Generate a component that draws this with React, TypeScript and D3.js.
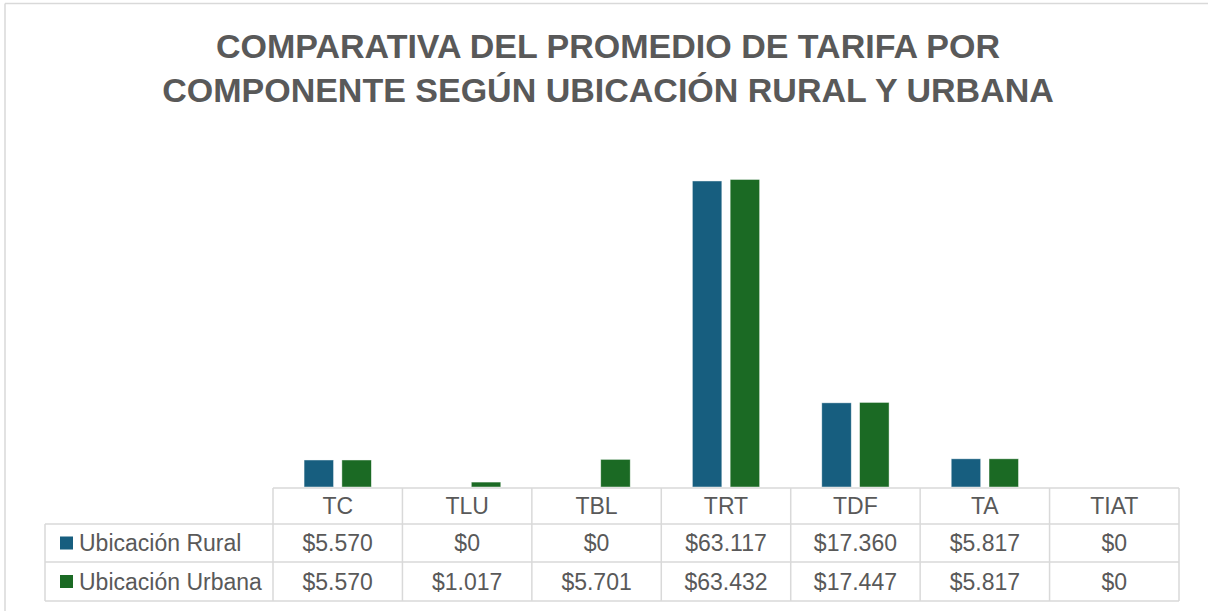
import React from "react";
import * as d3 from "d3";

const categories = ["TC", "TLU", "TBL", "TRT", "TDF", "TA", "TIAT"];
const seriesNames = ["Ubicación Rural", "Ubicación Urbana"];
const ruralValues = [5570, 0, 0, 63117, 17360, 5817, 0];
const urbanValues = [5570, 1017, 5701, 63432, 17447, 5817, 0];
const seriesColors = ["#175E7F", "#1B6A24"];
const titleLines = [
  "COMPARATIVA DEL PROMEDIO DE TARIFA POR",
  "COMPONENTE SEGÚN UBICACIÓN RURAL Y URBANA",
];
const yMax = 70000;

const W = 1208;
const H = 611;

const locale = d3.formatLocale({
  decimal: ",",
  thousands: ".",
  grouping: [3],
  currency: ["$", ""],
});
const fmt = locale.format("$,.0f");

export default function App() {
  const seriesValues = [ruralValues, urbanValues];
  const left = 273;
  const right = 1179;
  const baseY = 488;
  const x = d3.scaleBand<string>().domain(categories).range([left, right]);
  const bw = x.bandwidth();
  const xs = d3
    .scaleBand<string>()
    .domain(seriesNames)
    .range([bw * 0.24, bw * 0.76])
    .paddingInner(0.22);
  const y = d3.scaleLinear().domain([0, yMax]).range([baseY - 1, 147.6]);

  const textColor = "#595959";
  const grid = "#D9D9D9";
  const font = "'Liberation Sans', Arial, sans-serif";
  const legendLeft = 45;
  const rows = [488, 524, 562, 601];
  const fs = 23;

  return (
    <svg
      width={W}
      height={H}
      style={{ position: "absolute", left: 0, top: 0, background: "#fff" }}
    >
      <rect x={0} y={0} width={W} height={H} fill="#fff" />
      {/* chart frame */}
      <line x1={5} y1={3.5} x2={W} y2={3.5} stroke={grid} strokeWidth={1.5} />
      <line x1={5} y1={3.5} x2={5} y2={H} stroke={grid} strokeWidth={1.5} />

      {titleLines.map((t, i) => (
        <text
          key={i}
          x={608}
          y={58 + i * 44}
          textAnchor="middle"
          fontFamily={font}
          fontWeight="bold"
          fontSize={34}
          fill={textColor}
        >
          {t}
        </text>
      ))}

      {/* bars */}
      {seriesNames.map((s, si) =>
        categories.map((c, ci) => {
          const v = seriesValues[si][ci];
          if (v <= 0) return null;
          const x0 = (x(c) as number) + (xs(s) as number);
          const y0 = y(v);
          return (
            <rect
              key={s + c}
              x={x0}
              y={y0}
              width={xs.bandwidth()}
              height={y(0) - y0}
              fill={seriesColors[si]}
              stroke="#ffffff"
              strokeOpacity={0.6}
              strokeWidth={0.75}
            />
          );
        })
      )}

      {/* table grid */}
      <line x1={left} y1={rows[0]} x2={right} y2={rows[0]} stroke={grid} strokeWidth={1.5} />
      {rows.slice(1).map((ry, i) => (
        <line key={i} x1={legendLeft} y1={ry} x2={right} y2={ry} stroke={grid} strokeWidth={1.5} />
      ))}
      <line x1={legendLeft} y1={rows[1]} x2={legendLeft} y2={rows[3]} stroke={grid} strokeWidth={1.5} />
      {categories.map((c) => (
        <line
          key={c}
          x1={x(c) as number}
          y1={rows[0]}
          x2={x(c) as number}
          y2={rows[3]}
          stroke={grid}
          strokeWidth={1.5}
        />
      ))}
      <line x1={right} y1={rows[0]} x2={right} y2={rows[3]} stroke={grid} strokeWidth={1.5} />

      {/* header */}
      {categories.map((c) => (
        <text
          key={c}
          x={(x(c) as number) + bw / 2}
          y={(rows[0] + rows[1]) / 2 + 8}
          textAnchor="middle"
          fontFamily={font}
          fontSize={fs}
          fill={textColor}
        >
          {c}
        </text>
      ))}

      {/* rows */}
      {seriesNames.map((s, si) => {
        const cy = (rows[si + 1] + rows[si + 2]) / 2;
        return (
          <g key={s}>
            <rect x={60} y={cy - 6.5} width={13} height={13} fill={seriesColors[si]} />
            <text x={79} y={cy + 8} fontFamily={font} fontSize={fs} fill={textColor}>
              {s}
            </text>
            {categories.map((c, ci) => (
              <text
                key={c}
                x={(x(c) as number) + bw / 2}
                y={cy + 8}
                textAnchor="middle"
                fontFamily={font}
                fontSize={fs}
                fill={textColor}
              >
                {fmt(seriesValues[si][ci])}
              </text>
            ))}
          </g>
        );
      })}
    </svg>
  );
}
